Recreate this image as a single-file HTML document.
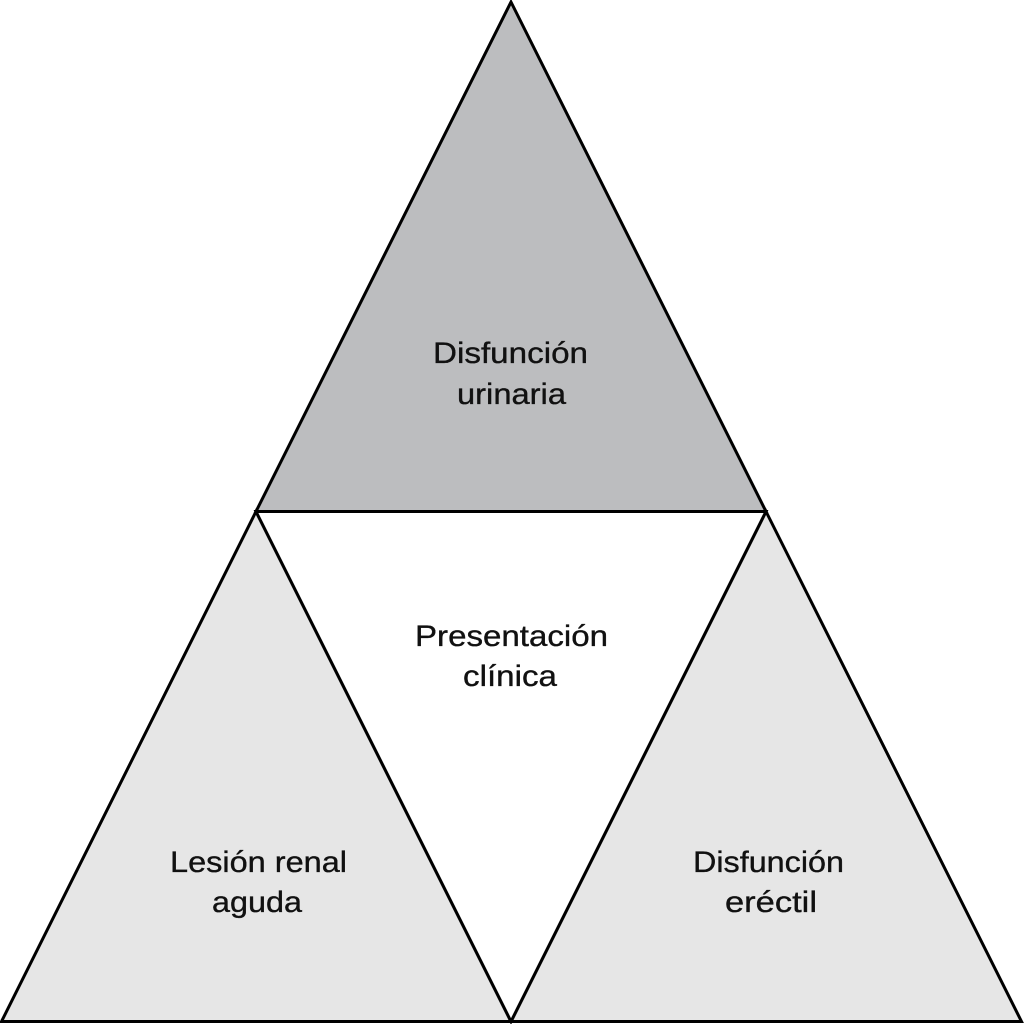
<!DOCTYPE html>
<html>
<head>
<meta charset="utf-8">
<style>
  html, body { margin: 0; padding: 0; background: #ffffff; }
  svg { display: block; }
  text { font-family: "Liberation Sans", Arial, sans-serif; font-size: 29.5px; fill: #111; stroke: #111; stroke-width: 0.35px; }
</style>
</head>
<body>
<svg width="1024" height="1024" viewBox="0 0 1024 1024" xmlns="http://www.w3.org/2000/svg">
  <rect x="0" y="0" width="1024" height="1024" fill="#ffffff"/>
  <!-- top triangle -->
  <polygon points="511,2 766,511.5 256,511.5" fill="#bcbdbf" stroke="#000" stroke-width="3" stroke-linejoin="miter"/>
  <!-- bottom-left triangle -->
  <polygon points="256,511.5 511,1021.5 1.5,1021.5" fill="#e6e6e6" stroke="#000" stroke-width="3"/>
  <!-- bottom-right triangle -->
  <polygon points="766,511.5 1021.5,1021.5 511,1021.5" fill="#e6e6e6" stroke="#000" stroke-width="3"/>
  <!-- middle inverted triangle outline -->
  <polygon points="256,511.5 766,511.5 511,1021.5" fill="#ffffff" stroke="#000" stroke-width="3"/>

  <!-- top labels -->
  <text x="433" y="363" textLength="155" lengthAdjust="spacingAndGlyphs">Disfunción</text>
  <text x="457" y="404" textLength="109" lengthAdjust="spacingAndGlyphs">urinaria</text>

  <!-- middle labels -->
  <text x="415" y="646" textLength="193" lengthAdjust="spacingAndGlyphs">Presentación</text>
  <text x="463" y="686" textLength="94" lengthAdjust="spacingAndGlyphs">clínica</text>

  <!-- left labels -->
  <text x="170" y="872" textLength="177" lengthAdjust="spacingAndGlyphs">Lesión renal</text>
  <text x="212" y="912" textLength="90" lengthAdjust="spacingAndGlyphs">aguda</text>

  <!-- right labels -->
  <text x="693" y="872" textLength="151" lengthAdjust="spacingAndGlyphs">Disfunción</text>
  <text x="725" y="912" textLength="92" lengthAdjust="spacingAndGlyphs">eréctil</text>
</svg>
</body>
</html>
